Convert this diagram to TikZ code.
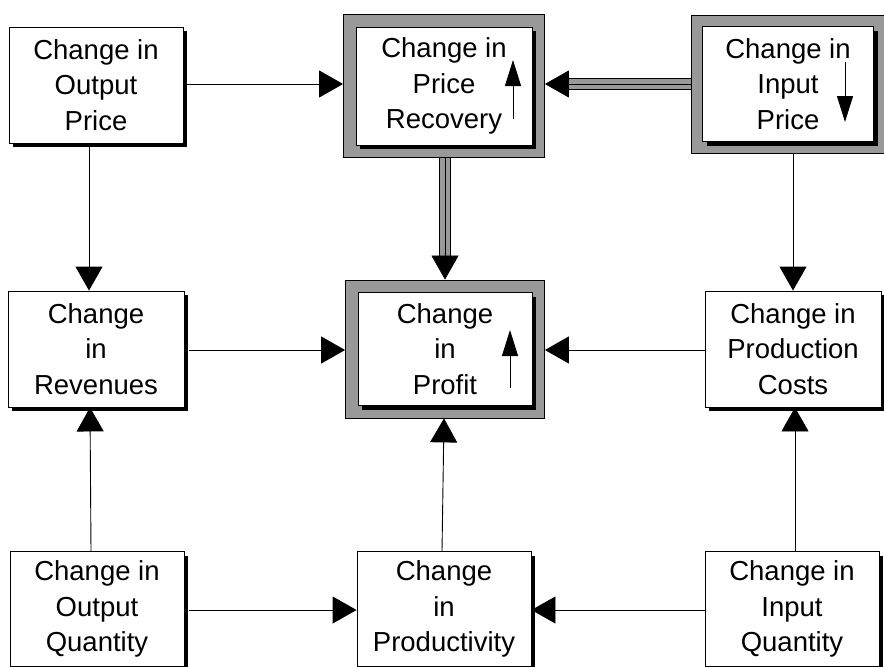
\documentclass[tikz,border=0pt]{standalone}
\usepackage{fontspec}
\setmainfont{Liberation Sans}
\usetikzlibrary{arrows.meta,fit,backgrounds}

\tikzset{
  x=1pt, y=-1pt,
  boxtext/.style={font=\fontsize{27.5}{35.5}\selectfont},
  box/.style={boxtext, draw, line width=0.9pt, fill=white, align=center,
    inner sep=0pt, minimum width=174pt, minimum height=116pt,
    preaction={fill=black, transform canvas={xshift=4pt, yshift=-4pt}}},
  frame/.style={draw, line width=0.9pt, fill=black!40, inner sep=12pt},
  conn/.style={line width=0.9pt, -{Triangle[length=24pt, width=27pt]}},
  hatchconn/.style={line width=0.7pt, -{Triangle[length=24pt, width=27pt]},
    preaction={draw, arrows=-, line width=12pt, black, shorten >=20pt},
    preaction={draw, arrows=-, line width=9.6pt, black!40, shorten >=20pt}},
  trend/.style={line width=1pt, -{Triangle[length=26pt, width=16pt]}}
}

\begin{document}
\begin{tikzpicture}
\useasboundingbox (0,0) rectangle (884,667);

% top row
\node[box] (op)  at (96,85)  {Change in\\Output\\Price};
\node[box, minimum width=176pt, minimum height=118pt] (rec) at (444,86) {Change in\\Price\\Recovery};
\node[box, minimum width=171pt, minimum height=115pt] (ip)  at (788,84) {Change in\\Input\\Price};

% middle row
\node[box, minimum width=176pt] (rev) at (96,349) {Change\\in\\Revenues};
\node[box, minimum height=113pt] (prof) at (445,349) {Change\\in\\Profit};
\node[box, minimum width=176pt] (pc) at (793,349) {Change in\\Production\\Costs};

% bottom row
\node[box, minimum height=115pt] (oq)   at (97,609)  {Change in\\Output\\Quantity};
\node[box, minimum height=115pt] (prod) at (444,609) {Change\\in\\Productivity};
\node[box, minimum height=115pt] (iq)   at (792,609) {Change in\\Input\\Quantity};

% white page, then hatched frames behind the key boxes
\begin{scope}[on background layer]
  \fill[white] (0,0) rectangle (884,667);
  \node[frame, fit=(rec)] (recF) {};
  \node[frame, fit=(ip), inner sep=11pt] (ipF) {};
  \node[frame, fit=(prof)] (profF) {};
\end{scope}

% connectors
\draw[conn, shorten <=4pt] (op.east |- 0,84) -- (recF.west |- 0,84);
\draw[hatchconn] (ipF.west |- 0,84) -- (recF.east |- 0,84);
\draw[hatchconn] (recF.south -| profF.north) -- (profF.north);

\draw[conn] ([xshift=-7pt]op.south) -- ([xshift=-7pt]rev.north);
\draw[conn] (ipF.south -| pc.north) -- (pc.north);

\draw[conn, shorten <=5pt] (rev.east |- 0,350) -- (profF.west |- 0,350);
\draw[conn] (pc.west |- 0,350) -- (profF.east |- 0,350);

\draw[conn] ([xshift=-6pt]oq.north) -- ([xshift=-6pt]rev.south);
\draw[conn] ([xshift=-2pt]prod.north) -- (profF.south -| prod.north);
\draw[conn] ([xshift=3pt]iq.north) -- ([xshift=2pt]pc.south);

\draw[conn, shorten <=5pt] (oq.east |- 0,610) -- (prod.west |- 0,610);
\draw[conn] (iq.west |- 0,610) -- (prod.east |- 0,610);

% direction markers inside the boxes
\draw[trend] ([shift={(69,33)}]rec.center)  -- ([shift={(69,-26)}]rec.center);
\draw[trend] ([shift={(57,-22)}]ip.center)  -- ([shift={(57,38)}]ip.center);
\draw[trend] ([shift={(65,39)}]prof.center) -- ([shift={(65,-19)}]prof.center);
\end{tikzpicture}
\end{document}
